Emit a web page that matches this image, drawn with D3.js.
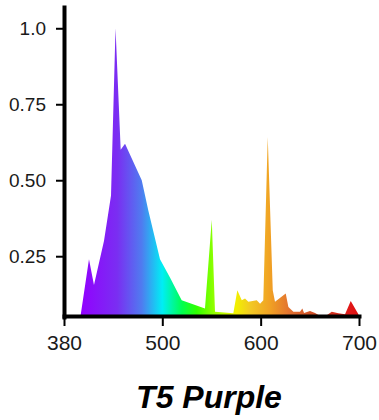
<!DOCTYPE html>
<html>
<head>
<meta charset="utf-8">
<script src="https://cdn.jsdelivr.net/npm/d3@7"></script>
<style>
	body { margin:0; background:#fff; }
	svg { display:block; }
	.tick text { font-family:"Liberation Sans", Arial, sans-serif; fill:#1a1a1a; }
</style>
</head>
<body>
<div id="chart"></div>
<script>
// spectrum (nm, relative intensity)
var wavelength = [400, 410.5, 416.6, 428.8, 437.4, 442.9, 449.2, 454.5, 474.9, 483, 497.2, 507.8, 519.7, 543.4,
	550.3, 553.6, 572.2, 576.3, 580.8, 584.1, 587.5, 596, 599.4, 602.7, 607.2, 612.3, 614.6, 625.5, 628.2,
	633.3, 640, 642.4, 644.1, 650.2, 655.3, 662.4, 667.2, 672.3, 679, 685.8, 691.6, 699.4, 700];
var intensity = [0.05, 0.24, 0.155, 0.30, 0.45, 1.0, 0.60, 0.62, 0.50, 0.40, 0.24, 0.18, 0.105, 0.078,
	0.37, 0.067, 0.062, 0.138, 0.105, 0.111, 0.10, 0.105, 0.094, 0.105, 0.642, 0.138, 0.10, 0.127, 0.083,
	0.067, 0.067, 0.078, 0.063, 0.07, 0.063, 0.05, 0.056, 0.067, 0.062, 0.059, 0.103, 0.059, 0.05];
var xTicks = [380, 500, 600, 700];
var yTicks = [0.25, 0.5, 0.75, 1.0];
var yTickLabels = ["0.25", "0.50", "0.75", "1.0"];
var title = "T5 Purple";

// rainbow fill, stops keyed by wavelength
var stopNm = [400, 445, 475, 500, 520, 535, 555, 575, 590, 610, 630, 660, 690, 700];
var stopColor = ["#9200ff", "#7a2ef2", "#4f7cf0", "#00eef5", "#00ff50", "#30ff00", "#a0ff00", "#f2f000",
	"#f2c824", "#f0a024", "#e27030", "#c84424", "#e01818", "#e01010"];

var width = 379, height = 420;

var svg = d3.select('#chart').append('svg')
	.attr('width', width)
	.attr('height', height);

// 380 sits at the axis origin but the gap to 500 is narrower than 500->600
var x = d3.scaleLinear().domain([380, 500, 700]).range([64, 162.3, 359]);
var y = d3.scaleLinear().domain([0.05, 1.07]).range([317, 7]);

var grad = svg.append('defs').append('linearGradient')
	.attr('id', 'rainbow')
	.attr('gradientUnits', 'userSpaceOnUse')
	.attr('x1', x(400)).attr('x2', x(700))
	.attr('y1', 0).attr('y2', 0);
grad.selectAll('stop')
	.data(stopNm)
	.enter().append('stop')
	.attr('offset', function(d){ return (x(d) - x(400)) / (x(700) - x(400)); })
	.attr('stop-color', function(d, i){ return stopColor[i]; });

var area = d3.area()
	.x(function(d){ return x(d); })
	.y0(y(0.05))
	.y1(function(d, i){ return y(intensity[i]); });

svg.append('path')
	.datum(wavelength)
	.attr('d', area)
	.attr('fill', 'url(#rainbow)');

// axes
var yAxis = svg.append('g')
	.attr('transform', 'translate(' + x(380) + ',0)')
	.call(d3.axisLeft(y).tickValues(yTicks)
		.tickFormat(function(d, i){ return yTickLabels[i]; })
		.tickSize(8).tickSizeOuter(0).tickPadding(10));
yAxis.select('.domain').attr('stroke', '#000').attr('stroke-width', 4).attr('stroke-linecap', 'square');
yAxis.selectAll('.tick line').attr('stroke', '#000').attr('stroke-width', 2);
yAxis.selectAll('.tick text').attr('font-size', 19).attr('dy', '0.34em');

var xAxis = svg.append('g')
	.attr('transform', 'translate(0,316)')
	.call(d3.axisBottom(x).tickValues(xTicks)
		.tickFormat(d3.format('d'))
		.tickSize(10).tickSizeOuter(0).tickPadding(9));
xAxis.select('.domain').attr('stroke', '#000').attr('stroke-width', 4).attr('stroke-linecap', 'square');
xAxis.selectAll('.tick line').attr('stroke', '#000').attr('stroke-width', 2);
xAxis.selectAll('.tick text').attr('font-size', 21);

svg.append('text')
	.attr('x', 209)
	.attr('y', 408)
	.attr('text-anchor', 'middle')
	.attr('font-family', '"Liberation Sans", Arial, sans-serif')
	.attr('font-weight', 'bold')
	.attr('font-style', 'italic')
	.attr('font-size', 32)
	.attr('fill', '#000')
	.text(title);
</script>
</body>
</html>
